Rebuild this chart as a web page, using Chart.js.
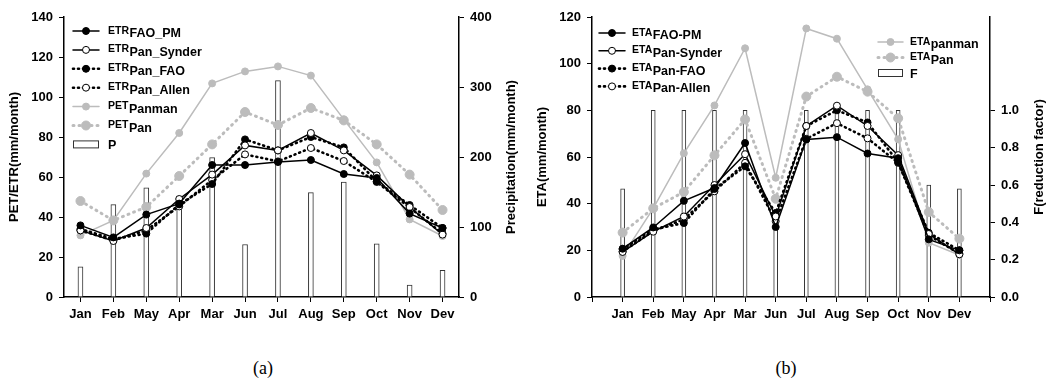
<!DOCTYPE html>
<html>
<head>
<meta charset="utf-8">
<script src="https://cdn.jsdelivr.net/npm/chart.js@4.4.0/dist/chart.umd.min.js"></script>
<style>
  body { margin: 0; background: #fff; width: 1047px; height: 378px; position: relative; overflow: hidden; }
  canvas { position: absolute; top: 0; }
  .cap { position: absolute; top: 358px; width: 60px; text-align: center; line-height: 18px;
         font: 18px 'Liberation Serif', 'Times New Roman', serif; color: #000; }
</style>
</head>
<body>
<canvas id="chartA" width="525" height="330" style="left:0"></canvas>
<canvas id="chartB" width="522" height="330" style="left:525px"></canvas>
<div class="cap" style="left:233px">(a)</div>
<div class="cap" style="left:756px">(b)</div>
<script>
var months = ['Jan', 'Feb', 'May', 'Apr', 'Mar', 'Jun', 'Jul', 'Aug', 'Sep', 'Oct', 'Nov', 'Dev'];

// (a) ETR / PET in mm/month, P in mm/month (right axis)
var etrFaoPm  = [35.8, 29.8, 41.2, 46.7, 66.0, 66.0, 67.5, 68.5, 61.5, 59.5, 41.7, 34.5];
var etrSynder = [33.3, 28.0, 34.5, 49.0, 61.2, 75.8, 73.3, 82.0, 73.3, 60.8, 45.0, 31.2];
var etrPanFao = [34.0, 29.0, 31.7, 46.3, 56.5, 78.8, 73.3, 80.0, 74.8, 57.8, 46.0, 34.5];
var etrAllen  = [33.3, 28.3, 33.3, 45.3, 58.5, 71.3, 67.8, 74.5, 68.0, 57.5, 44.7, 31.7];
var petPanman = [30.8, 38.3, 61.7, 82.0, 106.8, 112.8, 115.3, 110.7, 88.8, 67.3, 38.8, 30.5];
var petPan    = [48.0, 38.3, 45.0, 60.5, 76.3, 92.5, 86.0, 94.5, 88.3, 76.3, 61.2, 43.5];
var precip    = [43, 132, 156, 144, 199, 75, 309, 149, 164, 76, 17, 38];

// (b) ETA in mm/month, F reduction factor (right axis)
var etaFaoPm  = [20.7, 29.8, 41.2, 46.7, 66.0, 30.0, 67.5, 68.5, 61.5, 59.5, 24.7, 20.0];
var etaSynder = [19.3, 28.0, 34.5, 48.0, 61.2, 34.5, 73.3, 82.0, 73.3, 60.8, 27.0, 18.3];
var etaPanFao = [20.5, 29.0, 31.7, 46.3, 56.0, 36.0, 73.3, 80.0, 74.8, 57.8, 27.5, 20.0];
var etaAllen  = [19.5, 28.3, 33.3, 45.3, 57.5, 32.5, 67.8, 74.5, 68.0, 57.5, 26.5, 18.5];
var etaPanman = [17.6, 38.0, 61.6, 82.1, 106.6, 51.1, 115.1, 110.7, 89.0, 67.6, 23.3, 18.0];
var etaPan    = [27.6, 38.0, 45.0, 60.7, 76.1, 42.1, 85.9, 94.4, 88.0, 76.6, 36.4, 25.0];
var fFactor   = [0.58, 1.0, 1.0, 1.0, 1.0, 0.45, 1.0, 1.0, 1.0, 1.0, 0.60, 0.58];

var ticksA = [0, 20, 40, 60, 80, 100, 120, 140];
var ticksP = [0, 100, 200, 300, 400];
var ticksB = [0, 20, 40, 60, 80, 100, 120];
var ticksF = [0, 0.2, 0.4, 0.6, 0.8, 1.0];

var GRAY = '#bcbcbc';
var FONT = "'Liberation Sans', Arial, Helvetica, sans-serif";

Chart.defaults.font.family = FONT;
Chart.defaults.font.weight = 'bold';
Chart.defaults.font.size = 13;
Chart.defaults.color = '#000';

function lineSet(main, sub, data, kind) {
  var ds = {
    type: 'line', legendMain: main, legendSub: sub, label: main + sub, data: data,
    yAxisID: 'y', fill: false, tension: 0, order: 1,
    borderColor: '#000', borderWidth: 1.5, borderCapStyle: 'round',
    pointRadius: 3.5, pointBorderWidth: 1, pointBorderColor: '#000', pointBackgroundColor: '#000'
  };
  if (kind === 'open' || kind === 'dotopen') ds.pointBackgroundColor = '#fff';
  if (kind === 'dot' || kind === 'dotopen') { ds.borderDash = [1, 4]; ds.borderWidth = 2.6; }
  if (kind === 'gray') {
    ds.borderColor = GRAY; ds.pointBackgroundColor = GRAY; ds.pointBorderColor = GRAY;
    ds.pointRadius = 3.5; ds.order = 5;
  }
  if (kind === 'graydot') {
    ds.borderColor = GRAY; ds.pointBackgroundColor = GRAY; ds.pointBorderColor = GRAY;
    ds.borderDash = [1, 5]; ds.borderWidth = 3; ds.pointRadius = 4.5; ds.order = 5;
  }
  return ds;
}

function barSet(main, data, thick) {
  return {
    type: 'bar', legendMain: main, legendSub: '', label: main, data: data, yAxisID: 'y2',
    backgroundColor: '#fff', borderColor: '#333', borderWidth: 1, barThickness: thick, order: 10
  };
}

function pad(arr) { return [null].concat(arr, [null]); }

// legend with subscripted names + right axis title (reads bottom-up like the left one)
function extras(groups, rightTitle, titleX) {
  return {
    id: 'extras',
    afterDatasetsDraw: function (chart) {
      var ctx = chart.ctx, area = chart.chartArea;
      groups.forEach(function (g) {
        g.items.forEach(function (idx, i) {
          var ds = chart.data.datasets[idx];
          var y = g.y + i * g.gap, x0 = g.x, x1 = g.x + g.w, xm = (x0 + x1) / 2;
          ctx.save();
          if (ds.type === 'bar') {
            ctx.fillStyle = '#fff'; ctx.strokeStyle = ds.borderColor; ctx.lineWidth = 1;
            ctx.fillRect(x0, y - 3.5, g.w, 7); ctx.strokeRect(x0 + 0.5, y - 3.5, g.w - 1, 7);
          } else {
            ctx.strokeStyle = ds.borderColor; ctx.lineWidth = ds.borderWidth;
            ctx.lineCap = 'round'; ctx.setLineDash(ds.borderDash || []);
            ctx.beginPath(); ctx.moveTo(x0, y); ctx.lineTo(x1, y); ctx.stroke();
            ctx.setLineDash([]);
            ctx.beginPath(); ctx.arc(xm, y, ds.pointRadius, 0, Math.PI * 2);
            ctx.fillStyle = ds.pointBackgroundColor; ctx.fill();
            ctx.lineWidth = ds.pointBorderWidth; ctx.strokeStyle = ds.pointBorderColor; ctx.stroke();
          }
          ctx.fillStyle = '#000'; ctx.textBaseline = 'alphabetic';
          var tx = x0 + g.tx;
          if (ds.legendSub) {
            ctx.font = 'bold 10.5px ' + FONT;
            ctx.fillText(ds.legendMain, tx, y + 2.5);
            tx += ctx.measureText(ds.legendMain).width + 0.5;
            ctx.font = 'bold 12.5px ' + FONT;
            ctx.fillText(ds.legendSub, tx, y + 6);
          } else {
            ctx.font = 'bold 12.5px ' + FONT;
            ctx.fillText(ds.legendMain, tx, y + 5);
          }
          ctx.restore();
        });
      });
      ctx.save();
      ctx.translate(titleX, (area.top + area.bottom) / 2);
      ctx.rotate(-Math.PI / 2);
      ctx.font = 'bold 13px ' + FONT; ctx.fillStyle = '#000';
      ctx.textAlign = 'center'; ctx.textBaseline = 'middle';
      ctx.fillText(rightTitle, 0, 0);
      ctx.restore();
    }
  };
}

function grid() {
  return { display: true, drawOnChartArea: false, drawTicks: true, tickLength: 5, color: '#000', lineWidth: 1, offset: false };
}

function yAxis(pos, min, max, list, title, width, tpad, fmt) {
  return {
    type: 'linear', position: pos, min: min, max: max,
    grid: grid(), border: { display: true, color: '#000', width: 1.5 },
    ticks: { padding: 6, callback: fmt || function (v) { return v; } },
    afterBuildTicks: function (s) { s.ticks = list.map(function (v) { return { value: v }; }); },
    title: { display: !!title, text: title, padding: { top: tpad, bottom: 0 }, font: { size: 13, weight: 'bold' } },
    afterFit: function (s) { s.width = width; }
  };
}

function xAxis(offset) {
  return {
    type: 'category', offset: offset, grid: grid(),
    border: { display: true, color: '#000', width: 1.5 },
    ticks: { padding: 5, autoSkip: false, maxRotation: 0 },
    afterFit: function (s) { s.height = 33; }
  };
}

new Chart(document.getElementById('chartA'), {
  type: 'line',
  data: {
    labels: months,
    datasets: [
      lineSet('ETR', 'FAO_PM', etrFaoPm, 'solid'),
      lineSet('ETR', 'Pan_Synder', etrSynder, 'open'),
      lineSet('ETR', 'Pan_FAO', etrPanFao, 'dot'),
      lineSet('ETR', 'Pan_Allen', etrAllen, 'dotopen'),
      lineSet('PET', 'Panman', petPanman, 'gray'),
      lineSet('PET', 'Pan', petPan, 'graydot'),
      barSet('P', precip, 5)
    ]
  },
  options: {
    responsive: false, animation: false,
    layout: { padding: { top: 17, left: 0, right: 0, bottom: 0 } },
    plugins: { legend: { display: false }, tooltip: { enabled: false } },
    scales: {
      x: xAxis(true),
      y: yAxis('left', 0, 140, ticksA, 'PET/ETR(mm/month)', 64, 7),
      y2: yAxis('right', 0, 400, ticksP, '', 66, 0)
    }
  },
  plugins: [extras([{ x: 73, y: 31, gap: 18.9, w: 26, tx: 35, items: [0, 1, 2, 3, 4, 5, 6] }],
    'Precipitation(mm/month)', 511)]
});

new Chart(document.getElementById('chartB'), {
  type: 'line',
  data: {
    labels: [''].concat(months, ['']),
    datasets: [
      lineSet('ETA', 'FAO-PM', pad(etaFaoPm), 'solid'),
      lineSet('ETA', 'Pan-Synder', pad(etaSynder), 'open'),
      lineSet('ETA', 'Pan-FAO', pad(etaPanFao), 'dot'),
      lineSet('ETA', 'Pan-Allen', pad(etaAllen), 'dotopen'),
      lineSet('ETA', 'panman', pad(etaPanman), 'gray'),
      lineSet('ETA', 'Pan', pad(etaPan), 'graydot'),
      barSet('F', pad(fFactor), 4)
    ]
  },
  options: {
    responsive: false, animation: false,
    layout: { padding: { top: 17, left: 0, right: 0, bottom: 0 } },
    plugins: { legend: { display: false }, tooltip: { enabled: false } },
    scales: {
      x: xAxis(false),
      y: yAxis('left', 0, 120, ticksB, 'ETA(mm/month)', 67, 10),
      y2: yAxis('right', 0, 1.5, ticksF, '', 57, 0, function (v) { return v.toFixed(1); })
    }
  },
  plugins: [extras([
    { x: 74, y: 33, gap: 17.8, w: 26, tx: 33, items: [0, 1, 2, 3] },
    { x: 353, y: 42, gap: 15.5, w: 25, tx: 32, items: [4, 5, 6] }
  ], 'F(reduction factor)', 514)]
});
</script>
</body>
</html>
